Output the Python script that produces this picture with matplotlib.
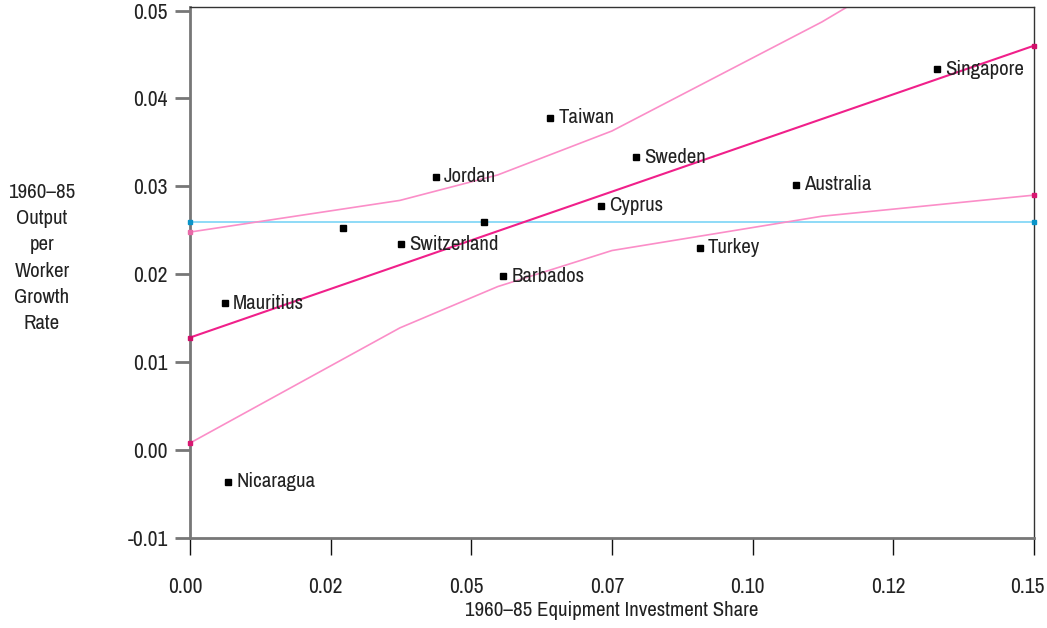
import matplotlib
matplotlib.use("Agg")
import matplotlib.pyplot as plt
from matplotlib.transforms import ScaledTranslation

plt.rcParams["font.family"] = ["Liberation Sans Narrow", "Archivo Narrow",
                               "Liberation Sans", "DejaVu Sans"]

# countries: equipment investment share vs output per worker growth
countries = ["Nicaragua", "Mauritius", "", "Switzerland", "Jordan", "", "Barbados",
             "Taiwan", "Cyprus", "Sweden", "Turkey", "Australia", "Singapore"]
invest = [0.0068, 0.0062, 0.0272, 0.0375, 0.0437, 0.0523, 0.0556,
          0.0640, 0.0730, 0.0793, 0.0906, 0.1077, 0.1328]
growth = [-0.0036, 0.0167, 0.0253, 0.0234, 0.0311, 0.0260, 0.0198,
          0.0378, 0.0278, 0.0333, 0.0230, 0.0302, 0.0433]

# fitted line and confidence band
fit_x = [0.0, 0.15]
fit_y = [0.0128, 0.0460]
band_x = [0.0, 0.0373, 0.0547, 0.0750, 0.1123, 0.15]
band_lo = [0.0008, 0.0139, 0.0186, 0.0227, 0.0266, 0.0290]
band_hi = [0.0248, 0.0284, 0.0313, 0.0363, 0.0487, 0.0630]
mean_growth = 0.0260

xticks = [0.0, 0.025, 0.05, 0.075, 0.10, 0.125, 0.15]
xtick_labels = ["0.00", "0.02", "0.05", "0.07", "0.10", "0.12", "0.15"]
yticks = [-0.01, 0.0, 0.01, 0.02, 0.03, 0.04, 0.05]
ytick_labels = ["-0.01", "0.00", "0.01", "0.02", "0.03", "0.04", "0.05"]

fig = plt.figure(figsize=(10.47, 6.28), dpi=100)
ax = fig.add_axes([190 / 1047, 1 - 538 / 628, 844 / 1047, 531 / 628])

ax.plot([0.0, 0.15], [mean_growth, mean_growth], color="#86d8f7", lw=1.3, zorder=2)
ax.plot(band_x, band_lo, color="#fb8ec8", lw=1.2, zorder=2)
ax.plot(band_x, band_hi, color="#fb8ec8", lw=1.2, zorder=2)
ax.plot(fit_x, fit_y, color="#f0208a", lw=1.5, zorder=3)

# little end caps on the lines
ax.plot([0.0, 0.15], [mean_growth, mean_growth], "s", color="#0a94c8", ms=2.6,
        zorder=5, clip_on=False)
ax.plot([0.0, 0.15], [band_lo[0], band_lo[-1]], "s", color="#d81872", ms=2.6,
        zorder=5, clip_on=False)
ax.plot([0.0], [band_hi[0]], "s", color="#e86aa8", ms=2.4, zorder=5, clip_on=False)
ax.plot(fit_x, fit_y, "s", color="#d0106a", ms=2.6, zorder=5, clip_on=False)

ax.plot(invest, growth, "s", color="black", ms=4.3, zorder=4)
for name, x, y in zip(countries, invest, growth):
    if name:
        ax.annotate(name, (x, y), xytext=(6, 0), textcoords="offset points",
                    ha="left", va="center", fontsize=15, color="#222222")

ax.set_xlim(0, 0.15)
ax.set_ylim(-0.01, 0.0504)
ax.set_xticks(xticks)
ax.set_xticklabels(xtick_labels)
ax.set_yticks(yticks)
ax.set_yticklabels(ytick_labels)

ax.tick_params(axis="y", direction="out", length=11, width=2, color="#777777",
               labelsize=15.5, labelcolor="#222222", pad=5)
ax.tick_params(axis="x", direction="out", length=12, width=1, color="#111111",
               labelsize=15.5, labelcolor="#222222", pad=16)

# x labels sit a bit left of their ticks; the last one is kept inside the figure
labels = ax.get_xticklabels()
for lab in labels[:-1]:
    lab.set_transform(lab.get_transform() + ScaledTranslation(-5 / 100, 0, fig.dpi_scale_trans))
labels[-1].set_horizontalalignment("right")
labels[-1].set_transform(labels[-1].get_transform() + ScaledTranslation(11 / 100, 0, fig.dpi_scale_trans))

ax.spines["left"].set_color("#777777")
ax.spines["left"].set_linewidth(2)
ax.spines["bottom"].set_color("#777777")
ax.spines["bottom"].set_linewidth(2)
ax.spines["top"].set_color("#333333")
ax.spines["top"].set_linewidth(1)
ax.spines["right"].set_color("#333333")
ax.spines["right"].set_linewidth(1)

ax.set_xlabel("1960–85 Equipment Investment Share", fontsize=15, color="#222222", labelpad=3)
fig.text(42 / 1047, 1 - 258 / 628, "1960–85\nOutput\nper\nWorker\nGrowth\nRate",
         ha="center", va="center", fontsize=15, color="#222222", linespacing=1.48)

fig.savefig("out.png", dpi=100)
